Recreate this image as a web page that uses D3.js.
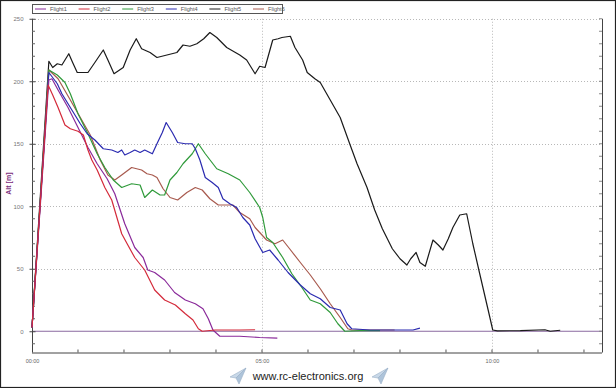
<!DOCTYPE html>
<html><head><meta charset="utf-8">
<script src="https://cdn.jsdelivr.net/npm/d3@7"></script>
<style>body{margin:0;background:#fff}svg{display:block;font-family:"Liberation Sans",Arial,sans-serif}</style>
</head><body><svg id="c" width="616" height="388"></svg>
<script>
// time in seconds, altitude in metres
const seriesNames = ["Flight1","Flight2","Flight3","Flight4","Flight5","Flight6"];
const seriesColors = ["#8a2a9a","#d42a3a","#2f9a3a","#2a2ab0","#1a1a1a","#a85a4e"];
const flight1 = [[0,3],[22,201],[26,202],[34,193],[47,179],[60,163],[73,147],[85,134],[98,122],[108,110],[121,86],[134,67],[145,59],[151,49],[160,47],[173,41],[186,31],[200,25],[213,22],[223,18],[230,10],[236,1],[245,-4],[271,-4],[297,-5],[320,-5.5]];
const flight2 = [[0,3],[21,197],[27,189],[34,179],[43,165],[50,162],[60,160],[67,157],[73,145],[78,137],[85,129],[95,115],[104,105],[117,78],[125,69],[134,59],[147,49],[160,33],[173,25],[187,21],[200,14],[210,9],[217,2],[222,0],[239,1],[271,1],[291,1.2]];
const flight3 = [[0,3],[22,209],[33,205],[43,199],[50,190],[60,174],[73,158],[85,142],[95,131],[106,121],[117,115],[130,118],[141,117],[147,107],[157,113],[167,109],[173,109],[180,121],[189,127],[197,134],[209,142],[217,150],[226,142],[241,130],[256,126],[271,121],[284,111],[297,99],[301,91],[306,75],[314,71],[327,59],[339,46],[352,35],[363,25],[376,22],[389,15],[399,6],[408,0],[428,0.5],[454,0.5]];
const flight4 = [[0,3],[22,207],[33,198],[39,190],[52,177],[63,166],[72,158],[82,153],[93,146],[104,145],[112,143],[117,145],[121,141],[128,143],[134,145],[141,143],[147,145],[157,142],[163,150],[170,159],[175,167],[183,159],[190,151],[200,150],[209,150],[213,146],[219,137],[226,123],[235,119],[243,115],[249,106],[258,102],[267,99],[275,91],[284,85],[291,74],[301,63],[310,65],[321,57],[334,47],[350,37],[363,30],[376,26],[389,19],[402,17],[411,6],[417,2],[441,1],[480,1],[497,1],[506,2.5]];
const flight5 = [[0,3],[22,216],[27,211],[33,214],[39,213],[48,222],[53,215],[59,207],[73,207],[82,215],[93,225],[99,217],[107,206],[119,211],[128,225],[136,234],[143,226],[154,223],[163,219],[176,221],[189,223],[197,229],[206,228],[215,230],[224,234],[232,239],[241,235],[254,227],[271,221],[280,217],[291,206],[297,212],[304,211],[314,233],[321,234],[326,235],[337,236],[343,227],[353,217],[359,207],[369,202],[376,199],[389,185],[402,171],[415,149],[424,134],[437,115],[447,97],[457,82],[470,66],[480,58],[489,53],[494,58],[501,63],[506,55],[513,52],[523,73],[530,69],[536,65],[543,74],[549,83],[558,93],[567,94],[575,70],[584,46],[595,17],[601,1],[607,0.3],[637,0.5],[669,1.2],[676,0],[689,0.8]];
const flight6 = [[0,3],[22,209],[34,202],[50,185],[63,171],[76,157],[89,137],[99,125],[108,121],[117,125],[130,131],[143,129],[150,126],[157,125],[163,123],[171,114],[180,107],[190,105],[202,111],[213,115],[222,113],[232,106],[243,101],[254,101],[262,101],[271,95],[284,90],[291,83],[306,73],[317,70],[327,73],[336,66],[350,55],[363,45],[376,34],[389,22],[402,11],[412,2],[417,1],[441,1],[473,1]];
const seriesData = [flight1,flight2,flight3,flight4,flight5,flight6];
const yTicks = [0,50,100,150,200,250];
const xTicks = [0,300,600];
const xLabels = ["00:00","05:00","10:00"];
const yTitle = "Alt [m]";
const footer = "www.rc-electronics.org";

const svg = d3.select("#c");
const L=32, R=602, T=18.75, B=352.5;
const x = d3.scaleLinear().domain([0,743.5]).range([L,R]);
const y = d3.scaleLinear().domain([-17,250]).range([B,T]);

// frame
svg.append("rect").attr("x",0.5).attr("y",0.5).attr("width",615).attr("height",387).attr("fill","#fff").attr("stroke","#222").attr("stroke-width",1.2);

// grid
const g = svg.append("g");
g.selectAll("line.hg").data(yTicks.filter(v=>v>0)).join("line")
 .attr("x1",L).attr("x2",R).attr("y1",d=>Math.round(y(d))+0.5).attr("y2",d=>Math.round(y(d))+0.5)
 .attr("stroke","#b8b8b8").attr("stroke-dasharray","1,2");
g.selectAll("line.vg").data(xTicks.filter(v=>v>0)).join("line")
 .attr("y1",T).attr("y2",B).attr("x1",d=>Math.round(x(d))+0.5).attr("x2",d=>Math.round(x(d))+0.5)
 .attr("stroke","#b8b8b8").attr("stroke-dasharray","1,2");

// zero line
svg.append("line").attr("x1",L).attr("x2",R).attr("y1",y(0)).attr("y2",y(0)).attr("stroke","#8a6aa0").attr("stroke-width",1);

// axes
const yAxis = d3.axisLeft(y).tickValues(yTicks).tickSize(4).tickPadding(5);
const ya = svg.append("g").attr("transform",`translate(${L+0.5},0)`).call(yAxis);
ya.select(".domain").attr("stroke","#444").attr("d",`M0,${T}V${B}`);
ya.selectAll(".tick line").attr("stroke","#444").attr("x2",-3).attr("x1",3);
ya.selectAll("text").attr("fill","#777").attr("font-size",6);
const yMinor = d3.range(-10,251,10).filter(v=>v%50!==0);
svg.append("g").selectAll("line").data(yMinor).join("line")
 .attr("x1",L).attr("x2",L+3).attr("y1",d=>y(d)).attr("y2",d=>y(d)).attr("stroke","#666");
// right edge
svg.append("line").attr("x1",R+0.5).attr("x2",R+0.5).attr("y1",T).attr("y2",B).attr("stroke","#444");
svg.append("g").selectAll("line").data(d3.range(-10,251,10)).join("line")
 .attr("x1",R-3).attr("x2",R).attr("y1",d=>y(d)).attr("y2",d=>y(d)).attr("stroke","#888");

const xAxis = d3.axisBottom(x).tickValues(xTicks).tickFormat((d,i)=>xLabels[i]).tickSize(0).tickPadding(6);
const xa = svg.append("g").attr("transform",`translate(0,${B+0.5})`).call(xAxis);
xa.select(".domain").attr("stroke","#444").attr("d",`M${L},0H${R}`);
xa.selectAll("text").attr("fill","#666").attr("font-size",5.5);
svg.append("g").selectAll("line").data(d3.range(60,743,60)).join("line")
 .attr("x1",d=>x(d)).attr("x2",d=>x(d)).attr("y1",B-3).attr("y2",B).attr("stroke","#555");

// y title
svg.append("text").attr("transform",`translate(11,${(T+B)/2-2}) rotate(-90)`).attr("text-anchor","middle")
 .attr("font-size",7).attr("font-weight","bold").attr("fill","#7a2a7a").text(yTitle);

// lines
const line = d3.line().x(d=>x(d[0])).y(d=>y(d[1]));
const order = [4,5,2,3,0,1];
svg.append("g").selectAll("path").data(order).join("path")
 .attr("d",i=>line(seriesData[i])).attr("fill","none").attr("stroke",i=>seriesColors[i])
 .attr("stroke-width",1.2).attr("stroke-linejoin","round");

// legend
const lg = svg.append("g");
lg.append("rect").attr("x",32.5).attr("y",4.5).attr("width",250).attr("height",9).attr("fill","#fff").attr("stroke","#555");
seriesNames.forEach((n,i)=>{
  const x0 = 35 + i*43.6;
  lg.append("line").attr("x1",x0).attr("x2",x0+11).attr("y1",9).attr("y2",9).attr("stroke",seriesColors[i]);
  lg.append("text").attr("x",x0+15).attr("y",11.3).attr("font-size",5.6).attr("fill","#555").text(n);
});

// footer
svg.append("text").attr("x",308).attr("y",380).attr("text-anchor","middle").attr("font-size",11).attr("fill","#222").text(footer);
function plane(cx,cy){
  const p = svg.append("g").attr("transform",`translate(${cx},${cy})`);
  p.append("path").attr("d","M8,-8 L-8,1 L-2,2 Z").attr("fill","#c8d8e8").attr("stroke","#9ab0c8").attr("stroke-width",0.6);
  p.append("path").attr("d","M8,-8 L-2,2 L1,8 Z").attr("fill","#aec4da").attr("stroke","#9ab0c8").attr("stroke-width",0.6);
}
plane(238,376); plane(380,376);
</script></body></html>
